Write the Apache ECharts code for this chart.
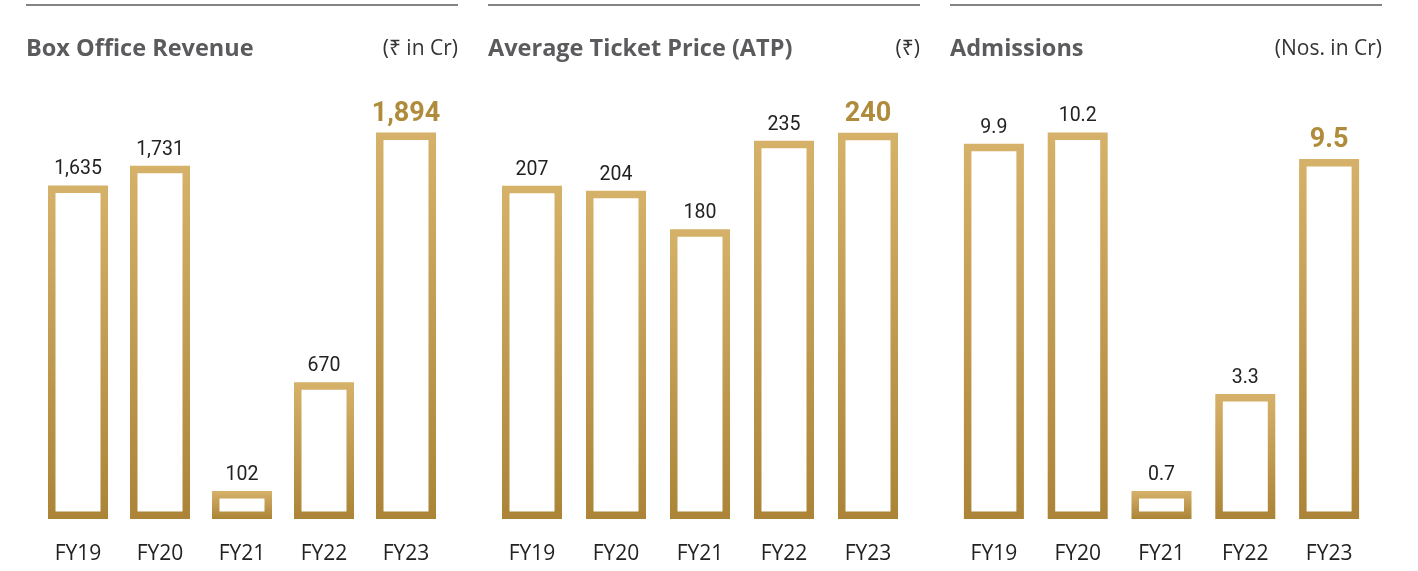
<!DOCTYPE html>
<html>
<head>
<meta charset="utf-8">
<script src="https://cdn.jsdelivr.net/npm/echarts@6/dist/echarts.min.js"></script>
<style>
 html,body{margin:0;padding:0;background:#fff;}
 #chart{width:1418px;height:571px;}
</style>
</head>
<body>
<div id="chart"></div>
<script>
var years = ["FY19","FY20","FY21","FY22","FY23"];
var boxOffice = [1635,1731,102,670,1894];
var atp = [207,204,180,235,240];
var admissions = [9.9,10.2,0.7,3.3,9.5];

var titles = ["Box Office Revenue","Average Ticket Price (ATP)","Admissions"];
var units = ["(₹ in Cr)","(₹)","(Nos. in Cr)"];

var numFont = "Roboto, 'Noto Sans', sans-serif";
var lblFont = "'Open Sans', 'Noto Sans', sans-serif";
var titleFont = "'Open Sans', 'Noto Sans', sans-serif";
var gold = "#b08b3b";

// panel geometry
var panels = [
 {x1:26, x2:458, gl:37, gw:410, max:1980},
 {x1:488, x2:920, gl:490, gw:420, max:251},
 {x1:950, x2:1382, gl:952, gw:419, max:10.66}
];

function fmt0(v){ return v.toLocaleString("en-US"); }
function fmt1(v){ return v.toFixed(1); }
var fmts = [fmt0, fmt0, fmt1];
var values = [boxOffice, atp, admissions];

var borderGrad = {
 type:"linear", x:0, y:0, x2:0, y2:1,
 colorStops:[{offset:0,color:"#d6b169"},{offset:1,color:"#ab8437"}]
};

var grid = [], xAxis = [], yAxis = [], series = [], title = [], graphic = [];

panels.forEach(function(p, i){
 grid.push({left:p.gl, width:p.gw, top:115, height:404});
 xAxis.push({
   type:"category", gridIndex:i, data:years,
   axisLine:{show:false}, axisTick:{show:false},
   axisLabel:{margin:25, color:"#222", fontSize:21, fontFamily:lblFont}
 });
 yAxis.push({
   type:"value", gridIndex:i, min:0, max:p.max,
   show:false, splitLine:{show:false}
 });
 var f = fmts[i];
 var data = values[i].map(function(v, k){
   var item = {value:v};
   if(k==values[i].length-1){
     item.label = {fontSize:27, fontWeight:"bold", color:gold, distance:5};
   }
   return item;
 });
 series.push({
   type:"bar", xAxisIndex:i, yAxisIndex:i,
   barWidth:60, barMinHeight:28, data:data, silent:true,
   itemStyle:{color:"rgba(255,255,255,0)", borderColor:borderGrad, borderWidth:7.5},
   label:{
     show:true, position:"top", distance:6,
     color:"#222", fontSize:19.5, fontFamily:numFont,
     formatter:function(d){ return f(d.value); }
   }
 });
 title.push({
   text:titles[i], left:p.x1, top:37, padding:0,
   textStyle:{fontFamily:titleFont, fontWeight:"bold", fontSize:23.5, color:"#5b5b5e"}
 });
 title.push({
   text:units[i], right:1418-p.x2, top:39, padding:0,
   textStyle:{fontFamily:lblFont, fontWeight:"normal", fontSize:21, color:"#333"}
 });
 graphic.push({
   type:"line", shape:{x1:p.x1, y1:5, x2:p.x2, y2:5},
   style:{stroke:"#5a5a5a", lineWidth:1.5}, silent:true
 });
});

var chart = echarts.init(document.getElementById("chart"));
var option = {
 animation:false,
 title:title,
 grid:grid,
 xAxis:xAxis,
 yAxis:yAxis,
 series:series,
 graphic:graphic
};
chart.setOption(option);
</script>
</body>
</html>
